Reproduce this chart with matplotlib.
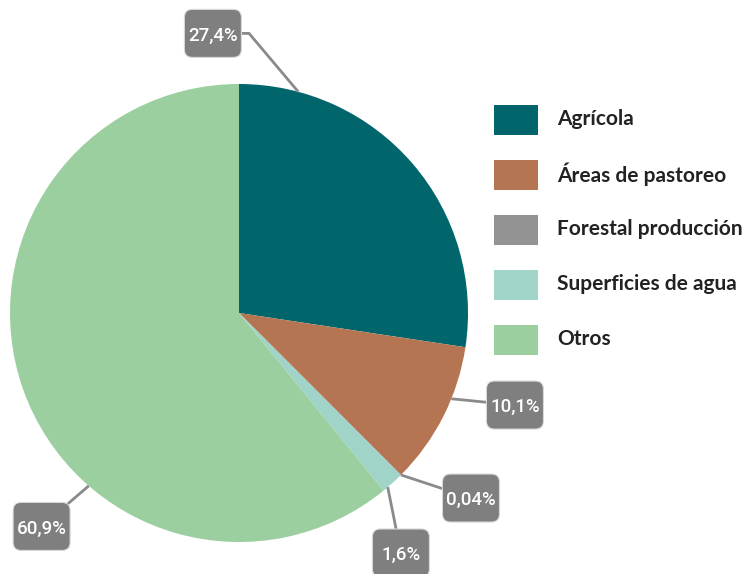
import numpy as np
import matplotlib.pyplot as plt
import matplotlib.patches as mpatches

categories = ["Agrícola", "Áreas de pastoreo", "Forestal producción", "Superficies de agua", "Otros"]
values = [27.4, 10.1, 0.04, 1.6, 60.9]
value_labels = ["27,4%", "10,1%", "0,04%", "1,6%", "60,9%"]
colors = ["#00666b", "#b57552", "#939393", "#a0d4c8", "#9bcfa0"]

# leader-line anchor angle on the rim (deg) and label box centre (data units)
anchor_angles = [75, -22, -45, -49.5, -131]
box_centres = [(-0.114, 1.221), (1.205, -0.402), (1.013, -0.808), (0.707, -1.048), (-0.862, -0.932)]
elbows = [(0.044, 1.221), None, None, None, None]

plt.rcParams["font.family"] = ["Lato", "DejaVu Sans"]

W, H = 749, 574
fig = plt.figure(figsize=(W / 100, H / 100), dpi=100)
cx, cy, r = 239, 313, 229
ax = fig.add_axes([(cx - r) / W, (H - cy - r) / H, 2 * r / W, 2 * r / H])

wedges, _ = ax.pie(
    values,
    colors=colors,
    startangle=90,
    counterclock=False,
    radius=1,
    wedgeprops=dict(linewidth=0),
)
ax.set_xlim(-1, 1)
ax.set_ylim(-1, 1)
ax.set_aspect("equal")
ax.axis("off")

bw, bh, br = 57 / r, 48 / r, 8 / r
for lab, ang, (bx, by), elbow in zip(value_labels, anchor_angles, box_centres, elbows):
    a = np.deg2rad(ang)
    px, py = np.cos(a), np.sin(a)
    if elbow is not None:
        xs, ys = [px, elbow[0], bx], [py, elbow[1], by]
    else:
        xs, ys = [px, bx], [py, by]
    ax.plot(xs, ys, color="#8a8a8a", lw=2, clip_on=False, zorder=3, solid_capstyle="butt")
    ax.add_patch(mpatches.FancyBboxPatch(
        (bx - bw / 2, by - bh / 2), bw, bh,
        boxstyle=f"round,pad=0,rounding_size={br}",
        fc="#7f7f7f", ec="#d9d9d9", lw=0.8, zorder=4, clip_on=False,
    ))
    ax.text(bx, by, lab, ha="center", va="center_baseline", color="white",
            fontsize=13.5, fontfamily=["Roboto", "DejaVu Sans"], fontweight="medium",
            zorder=5, clip_on=False)

# legend, drawn by hand to match the row spacing
leg_x, leg_y0, row_h = 494, 120, 55
for i, (c, l) in enumerate(zip(colors, categories)):
    yc = leg_y0 + i * row_h
    fig.add_artist(mpatches.Rectangle(
        (leg_x / W, 1 - (yc + 15) / H), 44 / W, 30 / H,
        transform=fig.transFigure, facecolor=c, edgecolor="none",
    ))
    fig.text(557 / W, 1 - (yc - 3) / H, l, ha="left", va="center_baseline",
             fontsize=15, fontweight="bold", color="#222222")

fig.savefig("out.png", dpi=100)
